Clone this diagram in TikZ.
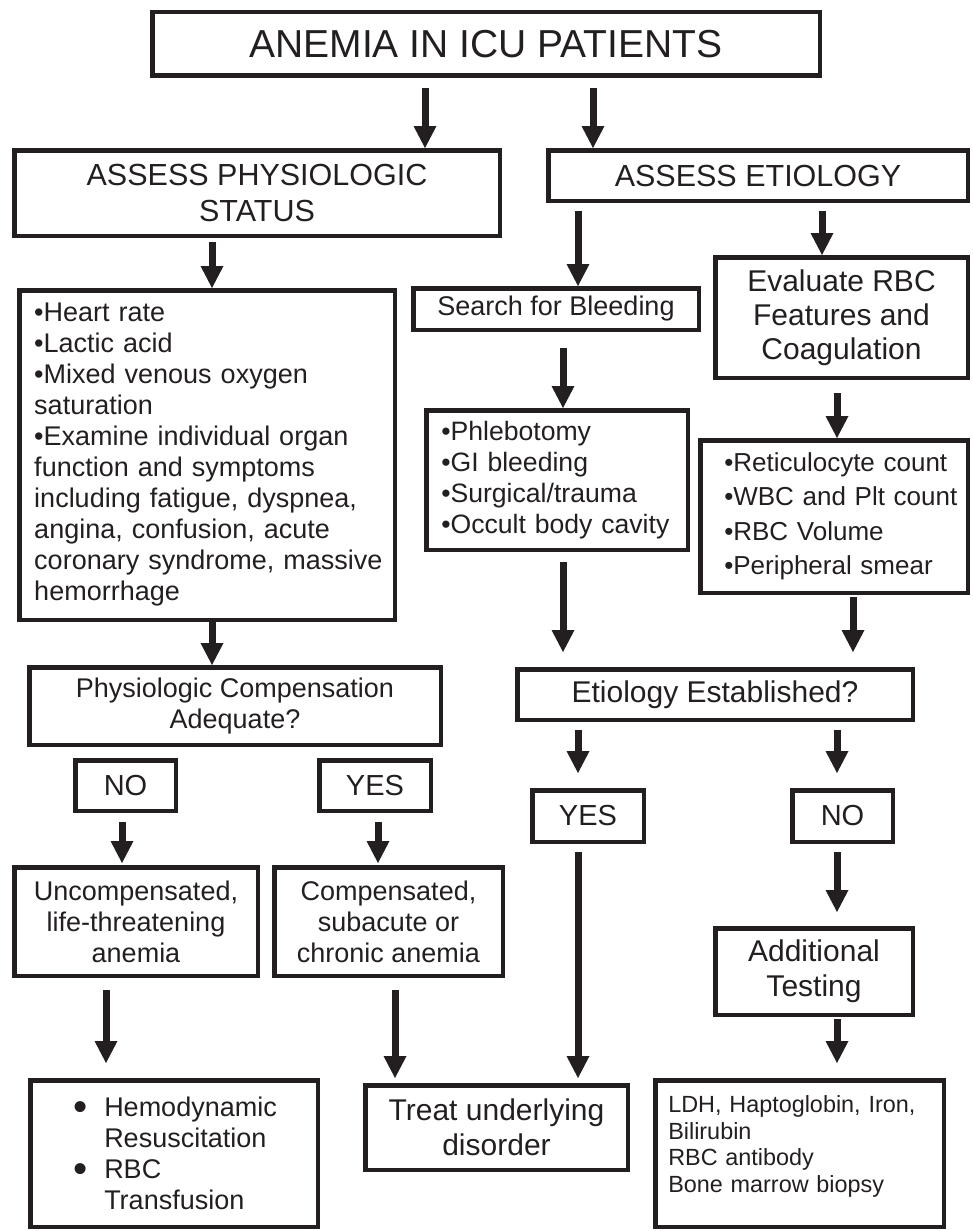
\documentclass[tikz,border=0pt]{standalone}
\usepackage{fontspec}
\setmainfont{Liberation Sans}
\usetikzlibrary{arrows.meta}
\definecolor{ink}{HTML}{231F20}
\newcommand\bigbullet{\raisebox{-4pt}{\scalebox{1.5}{•}}}
\begin{document}
\begin{tikzpicture}[x=1pt,y=-1pt,
  box/.style={draw=ink, text=ink, line width=4.5pt, inner sep=0pt, align=center},
  listbox/.style={draw=ink, text=ink, line width=4.5pt, inner sep=0pt, align=left},
  fs/.style 2 args={font=\fontsize{#1}{#2}\selectfont},
  arr/.style={draw=ink, line width=7pt,
    -{Triangle[width=23pt 0 0,length=22pt 0 0,line width=0pt]}},
]
\useasboundingbox (0,0) rectangle (973,1231);

% top level
\node[box, fs={39}{44}, minimum width=667.5pt, minimum height=63.5pt] (title) at (486,44) {ANEMIA IN ICU PATIENTS};
\node[box, fs={30.5}{36}, minimum width=485.5pt, minimum height=85.5pt] (phys) at (257,193) {ASSESS PHYSIOLOGIC\\STATUS};
\node[box, fs={30.5}{34}, minimum width=419.5pt, minimum height=50.5pt] (etio) at (758,175.5) {ASSESS ETIOLOGY};

% physiologic branch
\node[listbox, fs={27}{31}, text width=375.5pt, minimum height=329.5pt] (physlist) at (207,455)
  {\leftskip=15pt\relax
   •Heart rate\\
   •Lactic acid\\
   •Mixed venous oxygen\\
   saturation\\
   •Examine individual organ\\
   function and symptoms\\
   including fatigue, dyspnea,\\
   angina, confusion, acute\\
   coronary syndrome, massive\\
   hemorrhage\par};
\node[box, fs={27}{31}, minimum width=411.5pt, minimum height=77.5pt] (physcomp) at (235,706) {Physiologic Compensation\\Adequate?};
\node[box, fs={29}{34}, minimum width=100.5pt, minimum height=50.5pt] (noL) at (125.5,785.5) {NO};
\node[box, fs={29}{34}, minimum width=111.5pt, minimum height=50.5pt] (yesL) at (375,785.5) {YES};
\node[box, fs={27}{31}, minimum width=243.5pt, minimum height=108.5pt] (uncomp) at (136,921.5) {Uncompensated,\\life-threatening\\anemia};
\node[box, fs={27}{31}, minimum width=228.5pt, minimum height=108.5pt] (comp) at (388.5,921.5) {Compensated,\\subacute or\\chronic anemia};
\node[listbox, fs={27}{31}, text width=287.5pt, minimum height=146.5pt] (hemo) at (174,1153.5)
  {\leftskip=43pt\relax
   \makebox[31pt][l]{\bigbullet}Hemodynamic\\
   \hspace*{31pt}Resuscitation\\
   \makebox[31pt][l]{\bigbullet}RBC\\
   \hspace*{31pt}Transfusion\par};

% etiology branch
\node[box, fs={27}{31}, minimum width=285.5pt, minimum height=41.5pt] (search) at (556,309) {Search for Bleeding};
\node[box, fs={30}{34}, minimum width=252.5pt, minimum height=120.5pt] (evalrbc) at (841.5,317.5) {Evaluate RBC\\Features and\\Coagulation};
\node[listbox, fs={26.6}{31}, text width=261.5pt, minimum height=139.5pt] (bleed) at (557,480)
  {\leftskip=15pt\relax
   •Phlebotomy\\
   •GI bleeding\\
   •Surgical/trauma\\
   •Occult body cavity\par};
\node[listbox, fs={26}{34.5}, text width=267.5pt, minimum height=152.5pt] (rbclist) at (834,516.5)
  {\leftskip=24pt\relax
   •Reticulocyte count\\
   •WBC and Plt count\\
   •RBC Volume\\
   •Peripheral smear\par};
\node[box, fs={30}{34}, minimum width=395.5pt, minimum height=50.5pt] (etest) at (715,694.5) {Etiology Established?};
\node[box, fs={29}{34}, minimum width=111.5pt, minimum height=51.5pt] (yesR) at (588,816) {YES};
\node[box, fs={29}{34}, minimum width=100.5pt, minimum height=51.5pt] (noR) at (842.5,816) {NO};
\node[box, fs={30}{35}, minimum width=197.5pt, minimum height=86.5pt] (addl) at (814,971.5) {Additional\\Testing};
\node[box, fs={30}{35}, minimum width=262.5pt, minimum height=84.5pt] (treat) at (496.5,1127.5) {Treat underlying\\disorder};
% text sits in the upper part of this box: pad below the last line
\node[listbox, fs={23.4}{26.5}, text width=288.5pt, minimum height=146.5pt] (ldh) at (799.5,1153.5)
  {\leftskip=13pt\relax
   LDH, Haptoglobin, Iron,\\
   Bilirubin\\
   RBC antibody\\
   Bone marrow biopsy\par\nointerlineskip\vskip 14pt\hbox{}};

% connectors
\draw[arr, shorten <=10pt] (425,0 |- title.south) -- (425,0 |- phys.north);
\draw[arr, shorten <=10pt] (593,0 |- title.south) -- (593,0 |- etio.north);
\draw[arr, shorten <=4pt]  (212,0 |- phys.south) -- (212,0 |- physlist.north);
\draw[arr, shorten <=8pt]  (578,0 |- etio.south) -- (578,0 |- search.north);
\draw[arr, shorten <=8pt]  (822,0 |- etio.south) -- (822,0 |- evalrbc.north);
\draw[arr, shorten <=16pt] (563,0 |- search.south) -- (563,0 |- bleed.north);
\draw[arr, shorten <=13pt] (837,0 |- evalrbc.south) -- (837,0 |- rbclist.north);
\draw[arr]                 (212,0 |- physlist.south) -- (212,0 |- physcomp.north);
\draw[arr, shorten <=10pt, shorten >=15pt] (563,0 |- bleed.south) -- (563,0 |- etest.north);
\draw[arr, shorten <=2pt, shorten >=15pt]  (853,0 |- rbclist.south) -- (853,0 |- etest.north);
\draw[arr, shorten <=9pt, shorten >=2pt]   (122,0 |- noL.south) -- (122,0 |- uncomp.north);
\draw[arr, shorten <=9pt, shorten >=2pt]   (378,0 |- yesL.south) -- (378,0 |- comp.north);
\draw[arr, shorten <=8pt, shorten >=15pt]  (578,0 |- etest.south) -- (578,0 |- yesR.north);
\draw[arr, shorten <=8pt, shorten >=15pt]  (837,0 |- etest.south) -- (837,0 |- noR.north);
\draw[arr, shorten <=8pt, shorten >=5pt]   (578,0 |- yesR.south) -- (578,0 |- treat.north);
\draw[arr, shorten <=8pt, shorten >=14pt]  (837,0 |- noR.south) -- (837,0 |- addl.north);
\draw[arr, shorten <=12pt, shorten >=15pt] (106,0 |- uncomp.south) -- (106,0 |- hemo.north);
\draw[arr, shorten <=12pt, shorten >=5pt]  (395,0 |- comp.south) -- (395,0 |- treat.north);
\draw[arr, shorten <=2pt, shorten >=15pt]  (837,0 |- addl.south) -- (837,0 |- ldh.north);
\end{tikzpicture}
\end{document}
